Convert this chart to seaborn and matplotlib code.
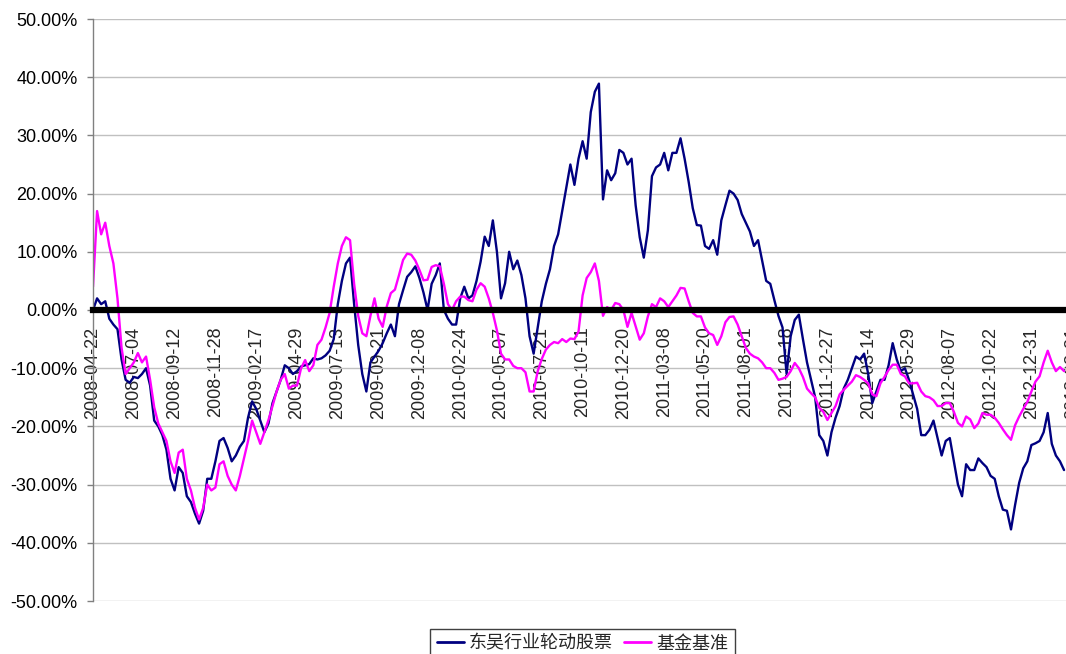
import numpy as np
import pandas as pd
import matplotlib
matplotlib.use("Agg")
import matplotlib.pyplot as plt
import seaborn as sns

# Cumulative return (%) of the fund and its benchmark
# one value every 5 trading days, starting 2008-04-22.
fund_name = "东吴行业轮动股票"
bench_name = "基金基准"

step_days = 5
tick_every = 50

tick_labels = [
    "2008-04-22", "2008-07-04", "2008-09-12", "2008-11-28", "2009-02-17",
    "2009-04-29", "2009-07-13", "2009-09-21", "2009-12-08", "2010-02-24",
    "2010-05-07", "2010-07-21", "2010-10-11", "2010-12-20", "2011-03-08",
    "2011-05-20", "2011-08-01", "2011-10-18", "2011-12-27", "2012-03-14",
    "2012-05-29", "2012-08-07", "2012-10-22", "2012-12-31", "2013-03-21",
]

fund_ret = [
    0, 2.0, 1.0, 1.5, -1.5, -2.5, -3.3, -8.5, -12, -12.5,
    -11.5, -11.7, -11, -10, -13, -19, -20, -21.5, -24, -29,
    -31, -27, -28, -32, -33, -35, -36.7, -34.5, -29, -29,
    -26, -22.5, -22, -23.7, -26, -25, -23.5, -22.5, -18.5, -15.7,
    -17, -19, -21, -19.5, -16, -14, -12, -9.5, -10, -11,
    -10.5, -9.7, -9.5, -9.3, -8.3, -8.5, -8.3, -7.8, -7, -5,
    1, 5, 8, 9, 1, -6, -11, -14, -9, -8,
    -7, -5.7, -4, -2.5, -4.5, 1, 3.4, 5.7, 6.5, 7.5,
    5.5, 3, 0, 4.5, 6, 8, 0, -1.5, -2.5, -2.5,
    2, 4, 2, 2.5, 5, 8.3, 12.6, 11, 15.4, 10,
    2, 4.6, 10, 7, 8.5, 6, 2, -4.5, -7.5, -3,
    1.5, 4.5, 7, 11, 13, 17, 21, 25, 21.5, 26,
    29, 26, 34, 37.5, 38.9, 19, 24, 22.3, 23.5, 27.5,
    27, 25, 26, 18, 12.5, 9, 13.7, 23, 24.5, 25,
    27, 24, 27, 27, 29.5, 26, 22, 17.5, 14.6, 14.5,
    11, 10.5, 12, 9.5, 15.4, 18, 20.5, 20, 18.9, 16.5,
    15, 13.5, 11, 12, 8.5, 5, 4.5, 1.7, -1, -3,
    -11, -4.5, -1.7, -0.8, -5, -9, -12, -15, -21.5, -22.5,
    -25, -21, -18.5, -16.5, -13.5, -12, -10, -8, -8.5, -7.5,
    -11, -16, -14, -12, -12, -9.5, -5.7, -8.5, -10.5, -10,
    -12, -14.5, -17, -21.5, -21.5, -20.6, -19, -22, -25, -22.5,
    -22, -26, -30, -32, -26.5, -27.5, -27.5, -25.5, -26.3, -27,
    -28.5, -29, -32, -34.3, -34.5, -37.7, -33.5, -29.7, -27.2, -26,
    -23.2, -22.9, -22.5, -21, -17.7, -23, -25, -26, -27.5,
]

bench_ret = [
    4, 17, 13, 15, 11, 8, 2, -6.5, -11, -10,
    -9, -7.4, -9, -8, -12, -16.7, -19.5, -21, -22.5, -26,
    -28, -24.5, -24, -29, -31, -34, -36, -34, -30, -31,
    -30.5, -26.5, -26, -28.5, -30, -31, -28.5, -25.5, -22.5, -19,
    -21, -23, -21, -18.9, -16.5, -14, -12, -11, -13.5, -13,
    -13, -10, -8.6, -10.5, -9.5, -6, -5.1, -3, -0.5, 4,
    8, 11, 12.5, 12, 4.5, -1, -4, -4.5, -1, 2,
    -1.5, -2.9, 0.6, 2.9, 3.5, 6, 8.6, 9.7, 9.5, 8.5,
    6.9, 5.1, 5.2, 7.4, 7.7, 7.5, 4.5, 1, 0, 1.5,
    2.3, 2.3, 1.7, 1.5, 3.5, 4.6, 4, 2, -0.5, -3.5,
    -7.5, -8.5, -8.5, -9.6, -10, -10, -10.7, -14, -14, -10.5,
    -8.4, -6.8, -6, -5.5, -5.7, -5, -5.5, -4.9, -5, -3.7,
    2.5, 5.5, 6.5, 8, 5, -1, 0.5, 0, 1.2, 1,
    0, -2.9, -0.5, -2.8, -5.1, -4, -1.1, 1, 0.5, 2,
    1.5, 0.5, 1.5, 2.5, 3.8, 3.7, 1.5, -0.5, -1.1, -1.1,
    -3, -4, -4.3, -6, -4.5, -2.1, -1.2, -1.1, -2.5, -4.5,
    -6.5, -7.5, -8, -8.3, -9, -10, -10, -10.8, -12, -11.8,
    -11.5, -10.5, -9.1, -10, -11.5, -13.5, -14.3, -15, -16.8, -17.5,
    -18.9, -17.7, -16.5, -14.5, -13.7, -13, -12.3, -11.2, -11.5, -12,
    -12.6, -14.5, -14.8, -12.6, -11.5, -10.3, -9.4, -9.4, -11, -11.4,
    -12.6, -12.6, -12.5, -14, -14.8, -15, -15.5, -16.5, -16.5, -16,
    -16, -17.5, -19.4, -20, -18.3, -18.8, -20.3, -19.5, -17.7, -18,
    -18, -18.5, -19.4, -20.5, -21.5, -22.3, -19.8, -18.3, -17, -15.8,
    -14, -12.3, -11.4, -9, -7, -9, -10.5, -9.8, -10.5,
]

y_ticks = [-50, -40, -30, -20, -10, 0, 10, 20, 30, 40, 50]


def main():
    sns.set_theme(style="white")
    plt.rcParams["font.family"] = ["Liberation Sans", "Noto Sans CJK SC", "DejaVu Sans"]

    n = len(fund_ret)
    day = np.arange(n) * step_days
    df = pd.DataFrame({
        "day": np.concatenate([day, day]),
        "ret": np.concatenate([fund_ret, bench_ret]) / 100.0,
        "series": [fund_name] * n + [bench_name] * n,
    })

    W, H = 1066, 654
    fig = plt.figure(figsize=(W / 100, H / 100), dpi=100)
    # axes runs past the right edge, the original chart is cropped there
    ax = fig.add_axes([93 / W, 53 / H, 997 / W, 582 / H])

    sns.lineplot(
        data=df, x="day", y="ret", hue="series",
        hue_order=[fund_name, bench_name],
        palette={fund_name: "#000080", bench_name: "#FF00FF"},
        linewidth=1.7, errorbar=None, ax=ax,
    )

    # spines first: moving the bottom spine resets the ticks
    for side in ("top", "right"):
        ax.spines[side].set_visible(False)
    ax.spines["left"].set_color("#808080")
    ax.spines["left"].set_linewidth(1)
    # category axis crosses at 0: thick black line
    ax.spines["bottom"].set_position(("data", 0))
    ax.spines["bottom"].set_color("black")
    ax.spines["bottom"].set_linewidth(4.5)
    ax.spines["bottom"].set_zorder(3)

    ax.set_xlim(0, 997 / 0.816)
    ax.set_ylim(-0.5, 0.5)

    ax.set_yticks([v / 100 for v in y_ticks])
    ax.set_yticklabels([f"{v:.2f}%" for v in y_ticks], fontsize=13, color="black")
    ax.set_xticks([i * tick_every for i in range(len(tick_labels))])
    ax.set_xticklabels(tick_labels, fontsize=13)

    ax.tick_params(axis="x", length=0, pad=12, labelrotation=90)
    ax.tick_params(axis="y", length=4, width=1, color="#808080", pad=7, left=True)
    for lab in ax.get_xticklabels():
        lab.set_rotation(90)
        lab.set_ha("center")
        lab.set_va("top")

    ax.yaxis.grid(True, color="#c0c0c0", linewidth=1)
    ax.xaxis.grid(False)
    ax.set_axisbelow(True)
    ax.set_xlabel("")
    ax.set_ylabel("")

    handles, labels = ax.get_legend_handles_labels()
    keep = [(h, l) for h, l in zip(handles, labels) if l in (fund_name, bench_name)]
    if ax.get_legend() is not None:
        ax.get_legend().remove()
    leg = fig.legend(
        [h for h, _ in keep], [l for _, l in keep],
        loc="upper center", bbox_to_anchor=(582.5 / W, 25 / H),
        ncol=2, frameon=True, fancybox=False, edgecolor="#404040",
        framealpha=1, fontsize=13, handlelength=1.5, handletextpad=0.3,
        columnspacing=0.6, borderpad=0.35, borderaxespad=0,
    )
    leg.get_frame().set_linewidth(1)
    for line in leg.get_lines():
        line.set_linewidth(2)

    fig.savefig("out.png", dpi=100)
    plt.close(fig)
    return 0


if __name__ == "__main__":
    raise SystemExit(main())
